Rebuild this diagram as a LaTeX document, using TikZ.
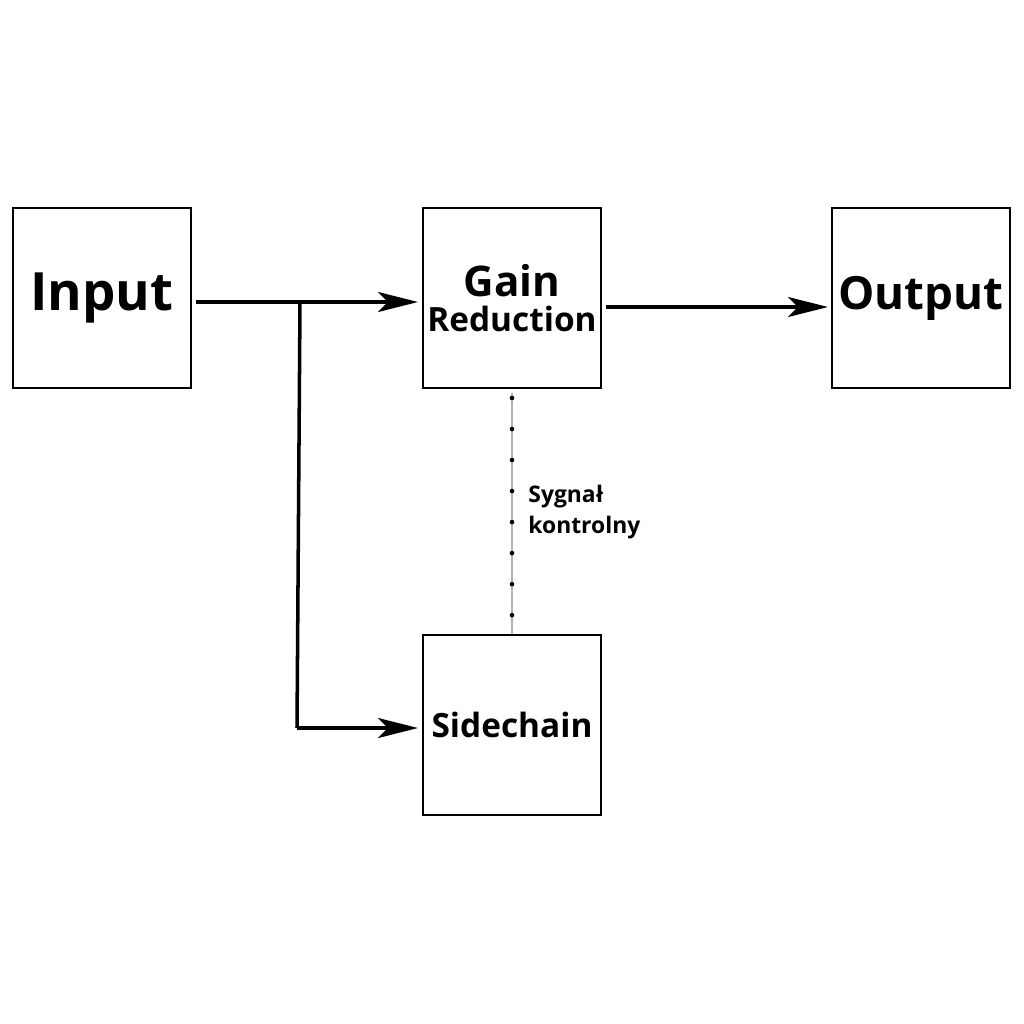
\documentclass[tikz,border=0pt]{standalone}
\usepackage{fontspec}
\setmainfont{Open Sans}
\usetikzlibrary{arrows.meta,positioning}
\tikzset{
	block/.style={draw, line width=0.5pt, minimum width=1.78cm, minimum height=1.8cm, inner sep=0pt, font=\bfseries},
	flow/.style={line width=1pt, -{Stealth[length=4mm,width=2mm,inset=1mm]}},
}
\begin{document}
\begin{tikzpicture}[x=0.01cm,y=-0.01cm]
	\useasboundingbox (0,0) rectangle (1024,1024);
	\node[block, font=\bfseries\fontsize{15}{18}\selectfont] (in) at (102,298) {Input};
	\node[block, align=center] (gain) at (512,298) {{\fontsize{12}{13}\selectfont Gain}\\[-2pt]{\fontsize{9.5}{11}\selectfont Reduction}};
	\node[block, font=\bfseries\fontsize{13}{16}\selectfont] (out) at (921,298) {Output};
	\node[block, font=\bfseries\fontsize{9.5}{11}\selectfont] (side) at (512,725) {Sidechain};
	
	\coordinate (split) at (300,302);
	\coordinate (bend) at (297,728);
	\draw[flow] (196,302) -- (418,302);
	\draw[flow] (606,307) -- (828,307);
	\draw[line width=1pt] (split) -- (bend);
	\draw[flow] (bend) -- (418,728);
	
	\draw[gray!60, line width=0.3pt] (gain.south) ++(0,4) -- (side.north);
	\draw[line width=1.3pt, line cap=round, dash pattern=on 0pt off 3.1mm] (512,398) -- (side.north);
	\node[anchor=west, align=left, font=\bfseries\fontsize{6.5}{9}\selectfont] (ctrl) at (516,512) {Sygnał\\kontrolny};
\end{tikzpicture}
\end{document}
